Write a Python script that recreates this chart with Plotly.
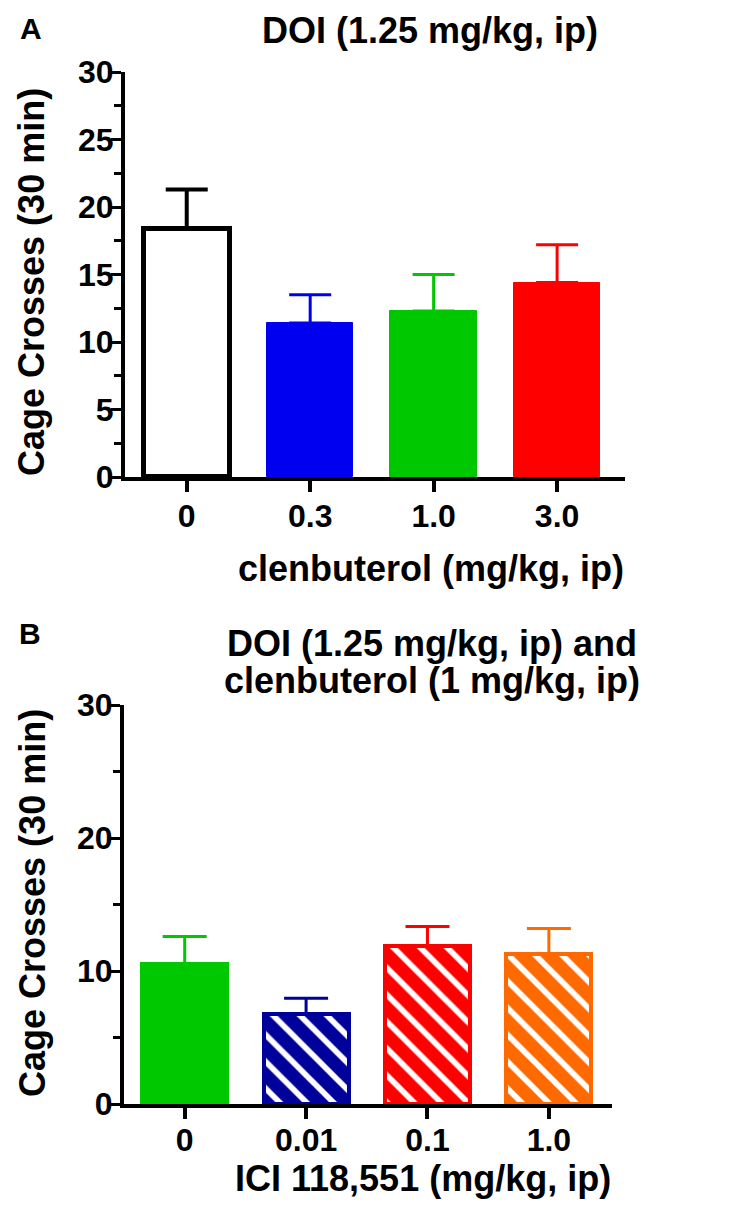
import plotly.graph_objects as go

# panel A: DOI + clenbuterol
dose_a = ["0", "0.3", "1.0", "3.0"]
mean_a = [18.4, 11.4, 12.3, 14.4]
sem_a = [2.9, 2.1, 2.7, 2.8]
colors_a = ["#ffffff", "#0000f0", "#00c800", "#ff0000"]
edges_a = ["#000000", "#0000f0", "#00c800", "#ff0000"]

# panel B: DOI + clenbuterol + ICI 118,551
dose_b = ["0", "0.01", "0.1", "1.0"]
mean_b = [10.5, 6.8, 11.9, 11.3]
sem_b = [2.1, 1.15, 1.45, 1.9]
colors_b = ["#00c800", "#00009a", "#ff0000", "#ff6a00"]
hatch_b = ["", "\\", "\\", "\\"]

FONT = "Liberation Sans, Arial, sans-serif"
W, H = 740, 1221
OFF = 8  # page body margin shifts the figure by this much


def px(x):
    return (x - OFF) / W


def py(y):
    return 1 - (y - OFF) / H


fig = go.Figure()

# one trace per bar so the error bar takes the bar colour
for i in range(len(dose_a)):
    fig.add_trace(go.Bar(
        x=[i], y=[mean_a[i]], width=0.7,
        marker=dict(color=colors_a[i],
                    line=dict(color=edges_a[i], width=5 if i == 0 else 1)),
        error_y=dict(type="data", symmetric=False, array=[sem_a[i]], arrayminus=[0],
                     color=edges_a[i], thickness=4 if i == 0 else 3, width=21),
        xaxis="x", yaxis="y", showlegend=False,
    ))

for i in range(len(dose_b)):
    fig.add_trace(go.Bar(
        x=[i], y=[mean_b[i]], width=0.7,
        marker=dict(color=colors_b[i],
                    line=dict(color=colors_b[i], width=4),
                    pattern=dict(shape=hatch_b[i], fgcolor="white", bgcolor=colors_b[i],
                                 fillmode="replace", size=19, solidity=0.3)),
        error_y=dict(type="data", symmetric=False, array=[sem_b[i]], arrayminus=[0],
                     color=colors_b[i], thickness=3, width=22),
        xaxis="x2", yaxis="y2", showlegend=False,
    ))

tickfont = dict(family=FONT, size=32, color="black", weight="bold")
titlefont = dict(family=FONT, size=36, color="black", weight="bold")


def xax(labels, domain, rng, anchor, standoff):
    return dict(domain=domain, range=rng, tickmode="array",
                tickvals=list(range(len(labels))), ticktext=labels,
                showline=True, linecolor="black", linewidth=4,
                ticks="outside", ticklen=11, tickwidth=4, tickcolor="black",
                tickfont=tickfont, ticklabelstandoff=standoff, automargin=False,
                showgrid=False, zeroline=False, fixedrange=True, anchor=anchor)


def yax(domain, dtick, minor_dtick, anchor):
    return dict(domain=domain, range=[0, 30], dtick=dtick, tick0=0,
                showline=True, linecolor="black", linewidth=4,
                ticks="outside", ticklen=10, tickwidth=3, tickcolor="black",
                minor=dict(dtick=minor_dtick, ticks="outside", ticklen=7,
                           tickwidth=3, tickcolor="black", showgrid=False),
                tickfont=tickfont, ticklabelstandoff=-9, automargin=False,
                showgrid=False, zeroline=False, fixedrange=True, anchor=anchor)


fig.update_layout(
    width=W, height=H,
    margin=dict(l=0, r=0, t=0, b=0, pad=0),
    paper_bgcolor="white", plot_bgcolor="white",
    bargap=0,
    xaxis=xax(dose_a, [px(125), px(625)], [-0.5, 3.55], "y", -3),
    yaxis=yax([py(477), py(72)], 5, 2.5, "x"),
    xaxis2=xax(dose_b, [px(124), px(612)], [-0.5, 3.52], "y2", -6),
    yaxis2=yax([py(1104), py(705)], 10, 5, "x2"),
)

texts = [
    ("A", 31, 29, 30),
    ("DOI (1.25 mg/kg, ip)", 430, 30, 36),
    ("clenbuterol (mg/kg, ip)", 431, 568, 36),
    ("B", 30, 633, 30),
    ("DOI (1.25 mg/kg, ip) and", 432, 643, 36),
    ("clenbuterol (1 mg/kg, ip)", 432, 681, 36),
    ("ICI 118,551 (mg/kg, ip)", 423, 1178, 36),
]
for txt, x, y, sz in texts:
    fig.add_annotation(text=txt, x=px(x), y=py(y), xref="paper", yref="paper",
                       xanchor="center", yanchor="middle", showarrow=False,
                       font=dict(family=FONT, size=sz, color="black", weight="bold"))

for y in (282, 903):
    fig.add_annotation(text="Cage Crosses (30 min)", x=px(32), y=py(y),
                       xref="paper", yref="paper", textangle=-90,
                       xanchor="center", yanchor="middle", showarrow=False,
                       font=titlefont)

fig.write_html("out.html")
